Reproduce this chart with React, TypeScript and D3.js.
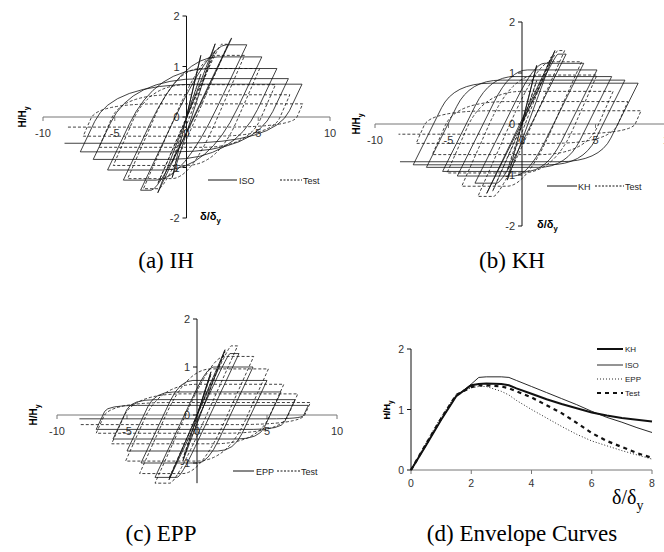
import React, { useEffect, useRef } from "react";
import * as d3 from "d3";

// ---- cyclic peaks (δ/δy, H/Hy) ----
// test (dashed, same in a/b/c)
const testPosX = [1.0, 2.0, 2.9, 4.05, 5.1, 6.2, 7.2, 8.1];
const testPosH = [0.85, 1.32, 1.44, 1.22, 0.96, 0.64, 0.44, 0.26];
const testNegX = [-1.0, -2.0, -3.0, -4.1, -5.1, -6.1, -7.2, -8.4];
const testNegH = [-0.9, -1.32, -1.42, -1.22, -0.96, -0.6, -0.38, -0.2];

// (a) ISO
const isoPosX = [1.0, 2.0, 3.15, 4.2, 5.25, 6.3, 7.1, 8.05];
const isoPosH = [1.22, 1.45, 1.56, 1.43, 1.19, 0.96, 0.76, 0.65];
const isoNegX = [-1.0, -2.0, -3.2, -4.4, -5.5, -6.5, -7.4, -8.5];
const isoNegH = [-1.2, -1.5, -1.45, -1.25, -1.05, -0.84, -0.69, -0.52];

// (b) KH
const khPosX = [1.0, 2.24, 3.0, 4.2, 5.1, 6.1, 7.0, 7.9];
const khPosH = [1.15, 1.44, 1.37, 1.19, 1.06, 0.93, 0.86, 0.8];
const khNegX = [-1.0, -2.4, -3.2, -4.4, -5.4, -6.5, -7.4, -8.3];
const khNegH = [-1.1, -1.36, -1.16, -1.02, -0.93, -0.85, -0.8, -0.74];

// (c) EPP
const eppPosX = [1.0, 2.0, 3.0, 4.0, 5.0, 6.0, 7.0, 7.95];
const eppPosH = [0.9, 1.36, 1.28, 1.0, 0.72, 0.48, 0.32, 0.2];
const eppNegX = [-1.0, -2.0, -3.0, -4.0, -5.0, -6.0, -7.2, -8.4];
const eppNegH = [-0.95, -1.35, -1.3, -1.0, -0.75, -0.5, -0.3, -0.08];

// (d) envelope curves
const envX = [0, 0.5, 1, 1.5, 2, 2.25, 2.5, 3, 3.25, 3.5, 4, 4.5, 5, 5.5, 6, 6.5, 7, 7.5, 8];
const envKH = [0, 0.41, 0.83, 1.22, 1.4, 1.42, 1.43, 1.42, 1.4, 1.35, 1.26, 1.17, 1.09, 1.02, 0.95, 0.9, 0.86, 0.83, 0.8];
const envISO = [0, 0.41, 0.83, 1.22, 1.42, 1.53, 1.54, 1.54, 1.53, 1.48, 1.38, 1.28, 1.18, 1.08, 0.97, 0.87, 0.79, 0.7, 0.62];
const envEPP = [0, 0.45, 0.88, 1.25, 1.36, 1.38, 1.38, 1.3, 1.24, 1.15, 1.0, 0.86, 0.72, 0.59, 0.48, 0.4, 0.32, 0.25, 0.18];
const envTest = [0, 0.43, 0.85, 1.24, 1.37, 1.4, 1.4, 1.38, 1.35, 1.3, 1.2, 1.07, 0.94, 0.78, 0.61, 0.48, 0.38, 0.28, 0.2];

const xTicks = [-10, -5, 0, 5, 10];
const yTicks = [-2, -1, 0, 1, 2];
const envXTicks = [0, 2, 4, 6, 8];
const envYTicks = [0, 1, 2];

const SANS = "'Liberation Sans', Arial, sans-serif";
const SERIF = "'Liberation Serif', 'Times New Roman', serif";

// one branch: elastic line with slope k from (x0,y0), rounded knee, flat plateau into (x1,y1)
function branch(p, sx, sy, x0, y0, x1, y1, k, fa, fb) {
  const dir = Math.sign(x1 - x0);
  const cx = x0 + (y1 - y0) / k;
  if ((cx - x1) * dir >= 0 || (cx - x0) * dir <= 0) {
    p.lineTo(sx(x1), sy(y1));
    return;
  }
  const ax = x0 + fa * (cx - x0);
  const ay = y0 + fa * (y1 - y0);
  const bx = cx + fb * (x1 - cx);
  p.lineTo(sx(ax), sy(ay));
  p.quadraticCurveTo(sx(cx), sy(y1), sx(bx), sy(y1));
  p.lineTo(sx(x1), sy(y1));
}

function loopPath(sx, sy, posX, posH, negX, negH, k, fa, fb) {
  const p = d3.path();
  p.moveTo(sx(0), sy(0));
  p.lineTo(sx(posX[0]), sy(posH[0]));
  let cx = posX[0];
  let cy = posH[0];
  for (let i = 0; i < posX.length; i++) {
    branch(p, sx, sy, cx, cy, negX[i], negH[i], k, fa, fb);
    cx = negX[i];
    cy = negH[i];
    if (i + 1 < posX.length) {
      branch(p, sx, sy, cx, cy, posX[i + 1], posH[i + 1], k, fa, fb);
      cx = posX[i + 1];
      cy = posH[i + 1];
    }
  }
  return p.toString();
}

function subLabel(sel, main, sub, size) {
  sel.append("tspan").text(main);
  sel
    .append("tspan")
    .attr("font-size", size * 0.7)
    .attr("dy", size * 0.3)
    .text(sub);
}

const App = () => {
  const svgRef = useRef(null);

  useEffect(() => {
    const svg = d3.select(svgRef.current);
    svg.selectAll("*").remove();

    const hysteresis = [
      {
        xr: [43, 330], yr: [218, 16], yLow: -2, ticksY: yTicks,
        m: [isoPosX, isoPosH, isoNegX, isoNegH], k: 0.6, fa: 0.45, fb: 0.45,
        name: "ISO", hLab: [22, 117], dLab: [200, 220],
        leg: { y: 180, s: [208, 237], n: 239, d: [280, 302], t: 303 },
      },
      {
        xr: [375, 669], yr: [226, 22], yLow: -2, ticksY: yTicks,
        m: [khPosX, khPosH, khNegX, khNegH], k: 0.58, fa: 0.7, fb: 0.2,
        name: "KH", hLab: [356, 124], dLab: [537, 228],
        leg: { y: 186, s: [547, 577], n: 578, d: [595, 624], t: 625 },
      },
      {
        xr: [57, 337], yr: [511, 319], yLow: -1.42, ticksY: [-1, 0, 1, 2],
        m: [eppPosX, eppPosH, eppNegX, eppNegH], k: 0.62, fa: 0.75, fb: 0.15,
        name: "EPP", hLab: [33, 415], dLab: null,
        leg: { y: 471, s: [233, 254], n: 256, d: [277, 300], t: 301 },
      },
    ];

    hysteresis.forEach((c) => {
      const x = d3.scaleLinear().domain([-10, 10]).range(c.xr);
      const y = d3.scaleLinear().domain([-2, 2]).range(c.yr);
      const g = svg.append("g");

      // axes
      g.append("line")
        .attr("x1", x(-10)).attr("x2", x(10))
        .attr("y1", y(0)).attr("y2", y(0))
        .attr("stroke", "#777").attr("stroke-width", 1);
      g.append("line")
        .attr("x1", x(0)).attr("x2", x(0))
        .attr("y1", y(2)).attr("y2", y(c.yLow))
        .attr("stroke", "#111").attr("stroke-width", 1);
      g.selectAll(".xt").data(xTicks).enter().append("line")
        .attr("x1", (d) => x(d)).attr("x2", (d) => x(d))
        .attr("y1", y(0)).attr("y2", y(0) + 4)
        .attr("stroke", "#777");
      g.selectAll(".yt").data(c.ticksY).enter().append("line")
        .attr("x1", x(0) - 4).attr("x2", x(0))
        .attr("y1", (d) => y(d)).attr("y2", (d) => y(d))
        .attr("stroke", "#111");

      g.selectAll(".xl").data(xTicks).enter().append("text")
        .attr("x", (d) => x(d)).attr("y", y(0) + 20)
        .attr("text-anchor", "middle")
        .attr("font-family", SANS).attr("font-size", 11).attr("fill", "#333")
        .text((d) => d);
      g.selectAll(".yl").data(c.ticksY).enter().append("text")
        .attr("x", x(0) - 7).attr("y", (d) => y(d) + 4)
        .attr("text-anchor", "end")
        .attr("font-family", SANS).attr("font-size", 11).attr("fill", "#333")
        .text((d) => d);

      // loops
      g.append("path")
        .attr("d", loopPath(x, y, testPosX, testPosH, testNegX, testNegH, 0.65, 0.55, 0.3))
        .attr("fill", "none").attr("stroke", "#111")
        .attr("stroke-width", 0.8).attr("stroke-dasharray", "3,2");
      g.append("path")
        .attr("d", loopPath(x, y, c.m[0], c.m[1], c.m[2], c.m[3], c.k, c.fa, c.fb))
        .attr("fill", "none").attr("stroke", "#111").attr("stroke-width", 0.8);

      // axis titles
      const ht = g.append("text")
        .attr("transform", `translate(${c.hLab[0]},${c.hLab[1]}) rotate(-90)`)
        .attr("text-anchor", "middle").attr("dy", "0.35em")
        .attr("font-family", SANS).attr("font-size", 10).attr("font-weight", "bold");
      subLabel(ht, "H/H", "y", 10);
      if (c.dLab) {
        const dt = g.append("text")
          .attr("x", c.dLab[0]).attr("y", c.dLab[1])
          .attr("font-family", SANS).attr("font-size", 11).attr("font-weight", "bold");
        subLabel(dt, "δ/δ", "y", 11);
      }

      // legend
      const L = c.leg;
      g.append("rect")
        .attr("x", L.s[0] - 2).attr("y", L.y - 7)
        .attr("width", L.t + 30 - L.s[0]).attr("height", 14).attr("fill", "#fff");
      g.append("line")
        .attr("x1", L.s[0]).attr("x2", L.s[1]).attr("y1", L.y).attr("y2", L.y)
        .attr("stroke", "#111").attr("stroke-width", 1);
      g.append("text")
        .attr("x", L.n).attr("y", L.y + 3.5)
        .attr("font-family", SANS).attr("font-size", 9).attr("fill", "#222")
        .text(c.name);
      g.append("line")
        .attr("x1", L.d[0]).attr("x2", L.d[1]).attr("y1", L.y).attr("y2", L.y)
        .attr("stroke", "#111").attr("stroke-width", 1).attr("stroke-dasharray", "2,1.5");
      g.append("text")
        .attr("x", L.t).attr("y", L.y + 3.5)
        .attr("font-family", SANS).attr("font-size", 9).attr("fill", "#222")
        .text("Test");
    });

    // (d) envelope curves
    const ex = d3.scaleLinear().domain([0, 8]).range([411, 652]);
    const ey = d3.scaleLinear().domain([0, 2]).range([470, 349]);
    const gd = svg.append("g");
    gd.append("line")
      .attr("x1", ex(0)).attr("x2", ex(8)).attr("y1", ey(0)).attr("y2", ey(0))
      .attr("stroke", "#777");
    gd.append("line")
      .attr("x1", ex(0)).attr("x2", ex(0)).attr("y1", ey(2)).attr("y2", ey(0))
      .attr("stroke", "#111");
    gd.selectAll(".xt").data(envXTicks).enter().append("line")
      .attr("x1", (d) => ex(d)).attr("x2", (d) => ex(d))
      .attr("y1", ey(0)).attr("y2", ey(0) + 4).attr("stroke", "#777");
    gd.selectAll(".yt").data(envYTicks).enter().append("line")
      .attr("x1", ex(0) - 4).attr("x2", ex(0))
      .attr("y1", (d) => ey(d)).attr("y2", (d) => ey(d)).attr("stroke", "#111");
    gd.selectAll(".xl").data(envXTicks).enter().append("text")
      .attr("x", (d) => ex(d)).attr("y", ey(0) + 17)
      .attr("text-anchor", "middle")
      .attr("font-family", SANS).attr("font-size", 10.5).attr("fill", "#333")
      .text((d) => d);
    gd.selectAll(".yl").data(envYTicks).enter().append("text")
      .attr("x", ex(0) - 7).attr("y", (d) => ey(d) + 4)
      .attr("text-anchor", "end")
      .attr("font-family", SANS).attr("font-size", 10.5).attr("fill", "#333")
      .text((d) => d);

    const envLine = (vals) =>
      d3.line().x((d, i) => ex(envX[i])).y((d) => ey(d))(vals);
    const envSeries = [
      { name: "KH", v: envKH, w: 2, dash: null, ly: 349 },
      { name: "ISO", v: envISO, w: 0.9, dash: null, ly: 365 },
      { name: "EPP", v: envEPP, w: 0.9, dash: "1,2", ly: 379 },
      { name: "Test", v: envTest, w: 2.2, dash: "4,4", ly: 393 },
    ];
    envSeries.forEach((s) => {
      gd.append("path")
        .attr("d", envLine(s.v))
        .attr("fill", "none").attr("stroke", "#111")
        .attr("stroke-width", s.w)
        .attr("stroke-dasharray", s.dash);
      gd.append("line")
        .attr("x1", 597).attr("x2", 623).attr("y1", s.ly).attr("y2", s.ly)
        .attr("stroke", "#111").attr("stroke-width", s.w)
        .attr("stroke-dasharray", s.dash);
      gd.append("text")
        .attr("x", 625).attr("y", s.ly + 3)
        .attr("font-family", SANS).attr("font-size", 8).attr("fill", "#222")
        .text(s.name);
    });
    const hd = gd.append("text")
      .attr("transform", "translate(387,410) rotate(-90)")
      .attr("text-anchor", "middle").attr("dy", "0.35em")
      .attr("font-family", SANS).attr("font-size", 9).attr("font-weight", "bold");
    subLabel(hd, "H/H", "y", 9);
    const dd = gd.append("text")
      .attr("x", 612).attr("y", 504)
      .attr("font-family", SERIF).attr("font-size", 20);
    subLabel(dd, "δ/δ", "y", 20);

    // captions
    const captions = [
      { t: "(a) IH", x: 166, y: 268 },
      { t: "(b) KH", x: 512, y: 268 },
      { t: "(c) EPP", x: 161, y: 541 },
      { t: "(d) Envelope Curves", x: 522, y: 541 },
    ];
    svg.selectAll(".cap").data(captions).enter().append("text")
      .attr("x", (d) => d.x).attr("y", (d) => d.y)
      .attr("text-anchor", "middle")
      .attr("font-family", SERIF).attr("font-size", 23).attr("fill", "#000")
      .text((d) => d.t);
  }, []);

  return (
    <svg
      ref={svgRef}
      width={664}
      height={552}
      style={{ position: "absolute", left: 0, top: 0, background: "#fff" }}
    />
  );
};

export default App;
